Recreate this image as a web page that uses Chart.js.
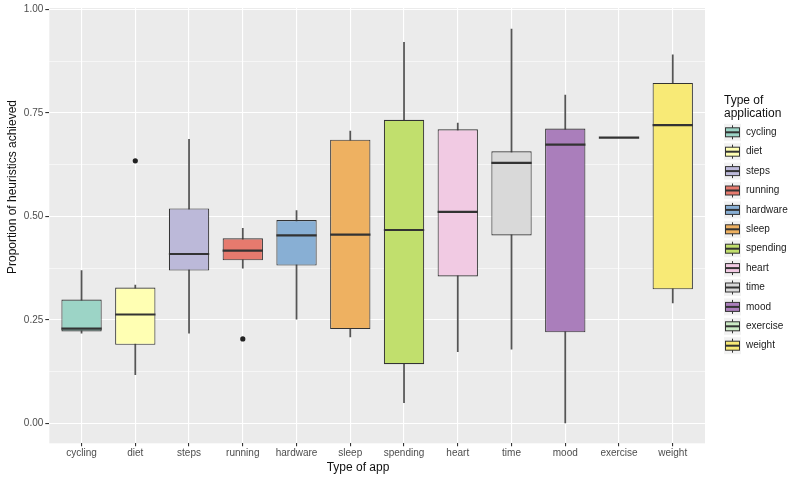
<!DOCTYPE html>
<html>
<head>
<meta charset="utf-8">
<script src="https://cdn.jsdelivr.net/npm/chart.js@4.4.1/dist/chart.umd.min.js"></script>
<style>
  body { margin: 0; background: #fff; }
  #wrap { width: 800px; height: 481px; }
</style>
</head>
<body>
<div id="wrap"><canvas id="box-chart" width="800" height="481"></canvas></div>
<script>
'use strict';

var categories = ['cycling', 'diet', 'steps', 'running', 'hardware', 'sleep',
                  'spending', 'heart', 'time', 'mood', 'exercise', 'weight'];
var lowerWhisker = [0.218, 0.118, 0.218, 0.375, 0.252, 0.209, 0.050, 0.173, 0.179, 0.000, 0.690, 0.291];
var q1           = [0.222, 0.190, 0.369, 0.394, 0.381, 0.228, 0.143, 0.355, 0.454, 0.220, 0.690, 0.324];
var medians      = [0.229, 0.263, 0.409, 0.417, 0.454, 0.456, 0.467, 0.511, 0.629, 0.673, 0.690, 0.720];
var q3           = [0.299, 0.328, 0.519, 0.447, 0.491, 0.685, 0.733, 0.710, 0.657, 0.712, 0.690, 0.822];
var upperWhisker = [0.369, 0.334, 0.686, 0.471, 0.514, 0.706, 0.920, 0.725, 0.952, 0.793, 0.690, 0.890];
var outlierApp   = ['diet', 'running'];
var outlierValue = [0.634, 0.204];
var yMajorTicks  = [0, 0.25, 0.5, 0.75, 1];
var yMinorTicks  = [0.125, 0.375, 0.625, 0.875];

var fills = ['#9CD4C6', '#FFFFB3', '#BCB9D9', '#E67A6E', '#88AFD4', '#EEB161',
             '#C1DF6D', '#F1CAE3', '#D9D9D9', '#AA7EBB', '#CCEBC5', '#F8EA76'];

var FONT = 'Liberation Sans, Arial, Helvetica, sans-serif';
Chart.defaults.font.family = FONT;

var isMajor = function(v) {
    return yMajorTicks.some(function(m) { return Math.abs(m - v) < 1e-6; });
};

var panelPlugin = {
    id: 'panel',
    beforeDraw: function(chart) {
        var a = chart.chartArea, ctx = chart.ctx;
        ctx.save();
        ctx.fillStyle = '#EBEBEB';
        ctx.fillRect(a.left, a.top, a.right - a.left, a.bottom - a.top);
        ctx.restore();
    },
    afterDatasetsDraw: function(chart) {
        // median lines, drawn on top of the boxes
        var meta = chart.getDatasetMeta(1), ctx = chart.ctx, y = chart.scales.y;
        ctx.save();
        ctx.strokeStyle = '#333333';
        ctx.lineWidth = 2.2;
        meta.data.forEach(function(bar, i) {
            var half = bar.width / 2;
            var py = y.getPixelForValue(medians[i]);
            ctx.beginPath();
            ctx.moveTo(bar.x - half, py);
            ctx.lineTo(bar.x + half, py);
            ctx.stroke();
        });
        ctx.restore();
    },
    afterDraw: function(chart) {
        var ctx = chart.ctx;
        ctx.save();
        // axis titles
        ctx.fillStyle = '#111';
        ctx.font = '12px ' + FONT;
        ctx.textAlign = 'center';
        ctx.textBaseline = 'middle';
        ctx.fillText('Type of app', 358, 468);
        ctx.save();
        ctx.translate(13, 187);
        ctx.rotate(-Math.PI / 2);
        ctx.fillText('Proportion of heuristics achieved', 0, 0);
        ctx.restore();

        // legend
        ctx.textAlign = 'left';
        ctx.fillText('Type of', 724, 101);
        ctx.fillText('application', 724, 114);
        ctx.font = '10px ' + FONT;
        categories.forEach(function(c, i) {
            var cy = 132.3 + i * 19.4;
            var kx = 724, ks = 17;
            ctx.fillStyle = '#F2F2F2';
            ctx.fillRect(kx, cy - ks / 2, ks, ks);
            ctx.strokeStyle = '#333';
            ctx.lineWidth = 1;
            ctx.beginPath();
            ctx.moveTo(kx + ks / 2, cy - ks / 2 + 1.5);
            ctx.lineTo(kx + ks / 2, cy + ks / 2 - 1.5);
            ctx.stroke();
            ctx.fillStyle = fills[i];
            ctx.fillRect(kx + 1.5, cy - 4.5, ks - 3, 9);
            ctx.strokeRect(kx + 1.5, cy - 4.5, ks - 3, 9);
            ctx.lineWidth = 2;
            ctx.beginPath();
            ctx.moveTo(kx + 1.5, cy);
            ctx.lineTo(kx + ks - 1.5, cy);
            ctx.stroke();
            ctx.fillStyle = '#1a1a1a';
            ctx.fillText(c, 746, cy);
        });
        ctx.restore();
    }
};

var ctx = document.getElementById('box-chart').getContext('2d');

var boxChart = new Chart(ctx, {
    type: 'bar',
    data: {
        datasets: [
            {
                // whiskers
                data: categories.map(function(c, i) { return {x: i, y: [lowerWhisker[i], upperWhisker[i]]}; }),
                backgroundColor: '#555555',
                barThickness: 1.1,
                grouped: false,
                order: 2
            },
            {
                // boxes
                data: categories.map(function(c, i) { return {x: i, y: [q1[i], q3[i]]}; }),
                backgroundColor: fills,
                borderColor: '#333333',
                borderWidth: 1.1,
                borderSkipped: false,
                categoryPercentage: 1,
                barPercentage: 0.75,
                grouped: false,
                order: 1
            },
            {
                type: 'scatter',
                data: outlierApp.map(function(a, i) { return {x: categories.indexOf(a), y: outlierValue[i]}; }),
                backgroundColor: '#222',
                borderWidth: 0,
                pointRadius: 2.6,
                order: 0
            }
        ]
    },
    options: {
        responsive: false,
        devicePixelRatio: 1,
        animation: false,
        layout: { padding: { left: 0, right: 95, top: 7, bottom: 0 } },
        plugins: { legend: { display: false }, tooltip: { enabled: false } },
        scales: {
            x: {
                type: 'linear',
                min: -0.6,
                max: 11.6,
                offset: false,
                afterBuildTicks: function(s) {
                    s.ticks = categories.map(function(c, i) { return {value: i}; });
                },
                afterFit: function(s) { s.height = 37.7; },
                ticks: {
                    autoSkip: false,
                    maxRotation: 0,
                    padding: 1,
                    color: '#4D4D4D',
                    font: { size: 10 },
                    callback: function(v) { return categories[v]; }
                },
                grid: { offset: false, color: '#FFFFFF', lineWidth: 1.1, tickLength: 3, tickColor: '#333333' },
                border: { display: false }
            },
            y: {
                type: 'linear',
                min: -0.048,
                max: 1.003,
                afterBuildTicks: function(s) {
                    s.ticks = yMajorTicks.concat(yMinorTicks).sort().map(function(v) { return {value: v}; });
                },
                afterFit: function(s) { s.width = 49.3; },
                ticks: {
                    padding: 2,
                    color: '#4D4D4D',
                    font: { size: 10 },
                    callback: function(v) { return isMajor(v) ? v.toFixed(2) : ''; }
                },
                grid: {
                    color: '#FFFFFF',
                    lineWidth: function(c) { return isMajor(c.tick.value) ? 1.1 : 0.55; },
                    tickLength: 4,
                    tickColor: function(c) { return isMajor(c.tick.value) ? '#333333' : 'rgba(0,0,0,0)'; }
                },
                border: { display: false }
            }
        }
    },
    plugins: [panelPlugin]
});
</script>
</body>
</html>
